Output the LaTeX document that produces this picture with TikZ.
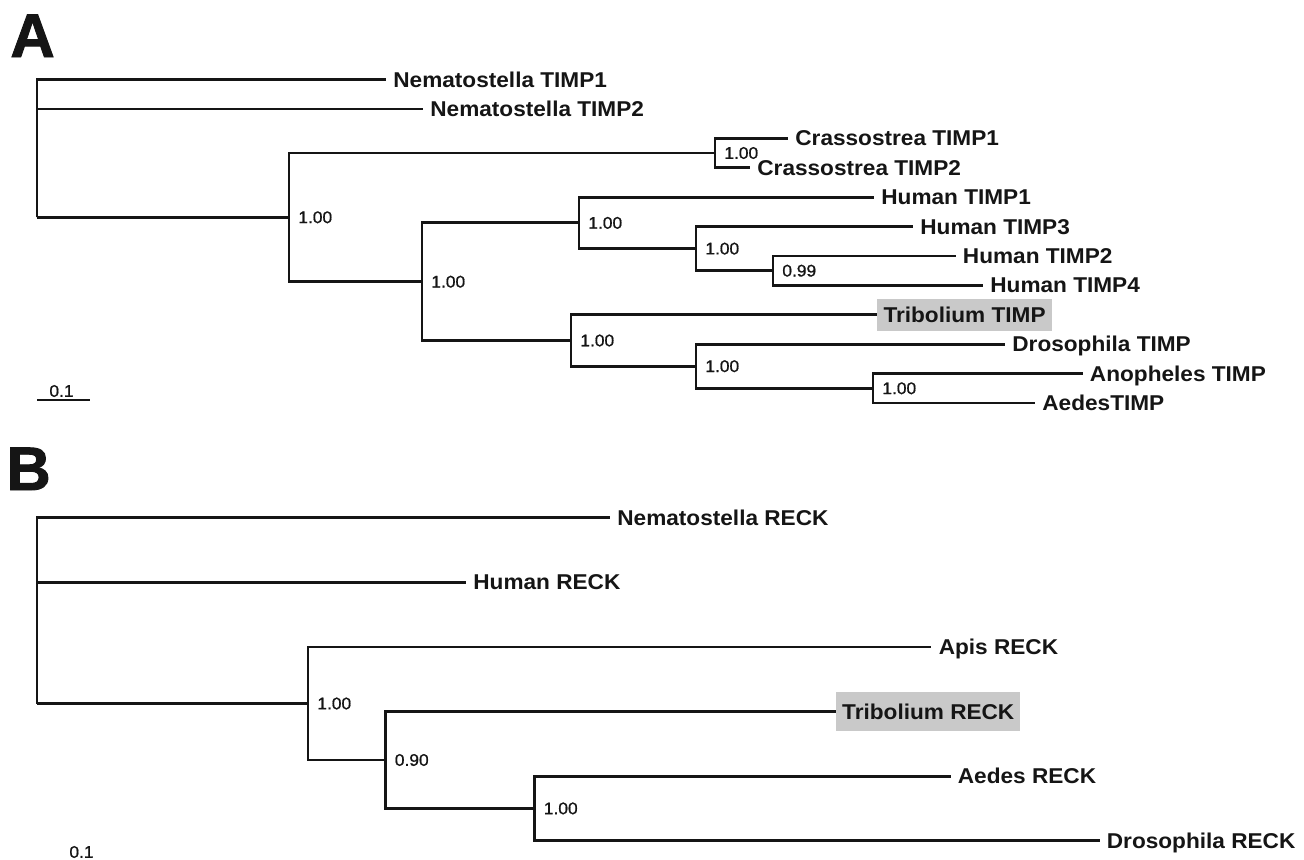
\documentclass[tikz,border=0pt]{standalone}
\usepackage{fontspec}
\setmainfont{Liberation Sans}
\newfontfamily\widefont{Liberation Sans}[FakeStretch=1.055]
\newfontfamily\suppfont{Liberation Sans}[FakeStretch=1.03, FakeBold=0.8]
\newfontfamily\panelfont{Liberation Sans}[FakeBold=1.5]
\definecolor{inkblack}{HTML}{151515}
\definecolor{tribgray}{HTML}{C9C9C9}

\tikzset{
    branch/.style={draw=inkblack, line width=1.6pt},
    taxon/.style={anchor=west, inner xsep=4pt, inner ysep=4.2pt, text height=9.2pt, text depth=0.6pt, text=inkblack, font=\widefont\bfseries\fontsize{12.2}{13}\selectfont},
    hilite/.style={taxon, fill=tribgray, inner xsep=3.5pt},
    support/.style={anchor=west, inner sep=0pt, text=inkblack, font=\suppfont\fontsize{9.6}{11}\selectfont},
    panel/.style={anchor=base west, inner sep=0pt, text=inkblack, font=\panelfont\bfseries\fontsize{35}{38}\selectfont}
}

\begin{document}
\begin{tikzpicture}[x=0.02cm, y=-0.02cm]
    \fill[white] (0,0) rectangle (1304,859);
    \useasboundingbox (0,0) rectangle (1304,859);

    % A: TIMP tree
    \node[panel] (labA) at (10,57) {A};
    \foreach \nm/\xe/\row/\txt in {nemaA1/386/0/Nematostella TIMP1, nemaA2/423/1/Nematostella TIMP2,
        crass1/788/2/Crassostrea TIMP1, crass2/750/3/Crassostrea TIMP2, hum1/874/4/Human TIMP1,
        hum3/913/5/Human TIMP3, hum2/955.6/6/Human TIMP2, hum4/983/7/Human TIMP4,
        drosA/1005/9/Drosophila TIMP, anoph/1082.6/10/Anopheles TIMP, aedesA/1035/11/AedesTIMP}
        \node[taxon] (\nm) at ({\xe},{79.5+29.41*\row}) {\txt};
    \node[hilite] (tribA) at (877,314.8) {Tribolium TIMP};

    \coordinate (rA) at (37,217.3);
    \coordinate (n1) at (289,217.3);
    \coordinate (cr) at (715,153);
    \coordinate (n2) at (422,281.7);
    \coordinate (n3) at (579,222.9);
    \coordinate (n5) at (696,248.6);
    \coordinate (n6) at (773,270.7);
    \coordinate (n4) at (571,340.5);
    \coordinate (n7) at (696,366.2);
    \coordinate (n8) at (873,388.3);

    \foreach \p/\c in {rA/nemaA1.west, rA/nemaA2.west, rA/n1, n1/cr, n1/n2, cr/crass1.west, cr/crass2.west,
        n2/n3, n2/n4, n3/hum1.west, n3/n5, n5/hum3.west, n5/n6, n6/hum2.west, n6/hum4.west,
        n4/tribA.west, n4/n7, n7/drosA.west, n7/n8, n8/anoph.west, n8/aedesA.west}
        \draw[branch] (\p) |- (\c);

    \foreach \nd/\val in {n1/1.00, cr/1.00, n2/1.00, n3/1.00, n4/1.00, n5/1.00, n6/0.99, n7/1.00, n8/1.00}
        \path (\nd) ++(9,0) node[support] (s-\nd) {\val};

    \coordinate (sbA1) at (37,400);
    \coordinate (sbA2) at (90,400);
    \draw[branch] (sbA1) -- (sbA2);
    \node[support, anchor=center] (scaleA) at (61.5,391) {0.1};

    % B: RECK tree
    \node[panel] (labB) at (6,490) {B};
    \foreach \nm/\xe/\row/\txt in {nemaB/610/0/Nematostella RECK, humB/466/1/Human RECK,
        apis/931.4/2/Apis RECK, aedesB/950.5/4/Aedes RECK, drosB/1099.5/5/Drosophila RECK}
        \node[taxon] (\nm) at ({\xe},{517.7+64.6*\row}) {\txt};
    \node[hilite, inner ysep=6pt] (tribB) at (835.7,711.5) {Tribolium RECK};

    \coordinate (rB) at (37,703.5);
    \coordinate (m1) at (308,703.5);
    \coordinate (m2) at (385.5,760);
    \coordinate (m3) at (534.5,808.4);

    \foreach \p/\c in {rB/nemaB.west, rB/humB.west, rB/m1, m1/apis.west, m1/m2,
        m2/tribB.west, m2/m3, m3/aedesB.west, m3/drosB.west}
        \draw[branch] (\p) |- (\c);

    \foreach \nd/\val in {m1/1.00, m2/0.90, m3/1.00}
        \path (\nd) ++(9,0) node[support] (s-\nd) {\val};

    \node[support, anchor=center] (scaleB) at (81.5,852) {0.1};
\end{tikzpicture}
\end{document}
